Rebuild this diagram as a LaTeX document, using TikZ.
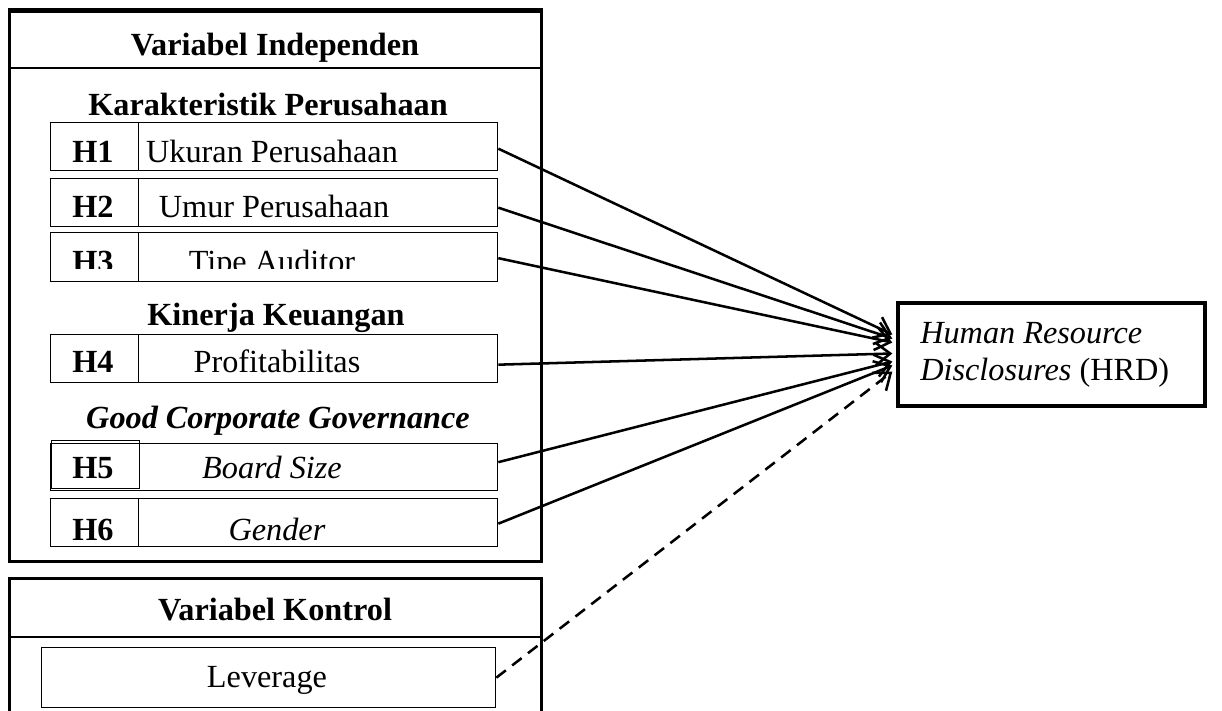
\documentclass[tikz,border=0pt]{standalone}
\usepackage{fontspec}
\setmainfont{Liberation Serif}
\usetikzlibrary{arrows.meta,calc}
\begin{document}
\begin{tikzpicture}[x=0.75pt,y=-0.75pt,
  font=\fontsize{24.2}{28}\selectfont,
  frame/.style={draw,line width=2.5pt,inner sep=0pt,anchor=north west},
  sep/.style={line width=1pt},
  rowbox/.style={draw,line width=1pt,inner sep=0pt,anchor=north west,minimum width=447*0.75pt,minimum height=48*0.75pt},
  hcell/.style={draw,line width=1pt,inner sep=0pt,anchor=north west,minimum width=88*0.75pt,minimum height=48*0.75pt},
  lbl/.style={anchor=base,inner sep=0pt},
  hd/.style={anchor=base,inner sep=0pt,font=\fontsize{24.2}{28}\selectfont\bfseries},
  conn/.style={line width=1.9pt,-{Straight Barb[length=11pt,width=17pt]}}]
\fill[white] (0,0) rectangle (1222,711);
\useasboundingbox (0,0) rectangle (1222,711);

% frames
\node[frame,minimum width=532*0.75pt,minimum height=552*0.75pt] (indep) at (8,8) {};
\draw[sep] (8,12) -- (540,12);
\draw[sep] (8,68) -- (540,68);
\node[frame,minimum width=532*0.75pt,minimum height=170*0.75pt] (kontrol) at (8,577) {};
\draw[sep] (8,637) -- (540,637);

% headings
\node[hd] (tInd) at (275,55) {Variabel Independen};
\node[hd] (tKar) at (268,115) {Karakteristik Perusahaan};
\node[hd] (tKin) at (276,325) {Kinerja Keuangan};
\node[hd,font=\fontsize{24.2}{28}\selectfont\bfseries\itshape] (tGcg) at (278,428) {Good Corporate Governance};
\node[hd] (tKon) at (275,620) {Variabel Kontrol};

% rows
\node[rowbox] (r1) at (50,122) {};
\node[hcell] (c1) at (50,122) {};
\node[hd] (h1) at (93,162) {H1};
\node[lbl] (t1) at (272,162) {Ukuran Perusahaan};

\node[rowbox] (r2) at (50,178) {};
\node[hcell] (c2) at (50,178) {};
\node[hd] (h2) at (93,217) {H2};
\node[lbl] (t2) at (274,217) {Umur Perusahaan};

\node[rowbox,minimum height=49*0.75pt] (r3) at (50,232) {};
\node[hcell,minimum height=49*0.75pt] (c3) at (50,232) {};
\begin{scope}
\clip (0,0) rectangle (1222,268);
\node[hd] (h3) at (93,272) {H3};
\node[lbl] (t3) at (272,272) {Tipe Auditor};
\end{scope}

\node[rowbox] (r4) at (50,334) {};
\node[hcell] (c4) at (50,334) {};
\node[hd] (h4) at (93,372) {H4};
\node[lbl] (t4) at (277,372) {Profitabilitas};

\node[rowbox,minimum height=47*0.75pt] (r5) at (50,443) {};
\node[hcell] (c5) at (51,440) {};
\node[hd] (h5) at (93,478) {H5};
\node[lbl] (t5) at (272,478) {\textit{Board Size}};

\node[rowbox] (r6) at (50,498) {};
\node[hcell] (c6) at (50,498) {};
\begin{scope}
\clip (0,0) rectangle (1222,545);
\node[hd] (h6) at (93,540) {H6};
\node[lbl] (t6) at (277,540) {\textit{Gender}};
\end{scope}

% leverage
\node[draw,line width=1pt,inner sep=0pt,anchor=north west,minimum width=454*0.75pt,minimum height=60*0.75pt] (lev) at (41,647) {};
\node[lbl] (tlev) at (267,687) {Leverage};

% HRD
\node[draw,line width=2.5pt,inner sep=0pt,minimum width=307*0.75pt,minimum height=103*0.75pt] (hrd) at (1051.5,354.5) {};
\node[lbl,anchor=base west] (hrd1) at (920,343) {\textit{Human Resource}};
\node[lbl,anchor=base west] (hrd2) at (920,380) {\textit{Disclosures} (HRD)};

% connectors
\draw[conn] ($(r1.east)+(0,2)$) -- ($(hrd.west)+(-4,-20)$);
\draw[conn] ($(r2.east)+(0,5)$) -- ($(hrd.west)+(-4,-16)$);
\draw[conn] ($(r3.east)+(0,1)$) -- ($(hrd.west)+(-4,-12)$);
\draw[conn] ($(r4.east)+(0,6)$) -- ($(hrd.west)+(-4,-1)$);
\draw[conn] ($(r5.east)+(0,-5)$) -- ($(hrd.west)+(-4,7)$);
\draw[conn] ($(r6.east)+(0,1)$) -- ($(hrd.west)+(-4,11)$);
\draw[conn,dash pattern=on 9pt off 6pt] (lev.east) -- ($(hrd.west)+(-4,17)$);
\end{tikzpicture}
\end{document}
